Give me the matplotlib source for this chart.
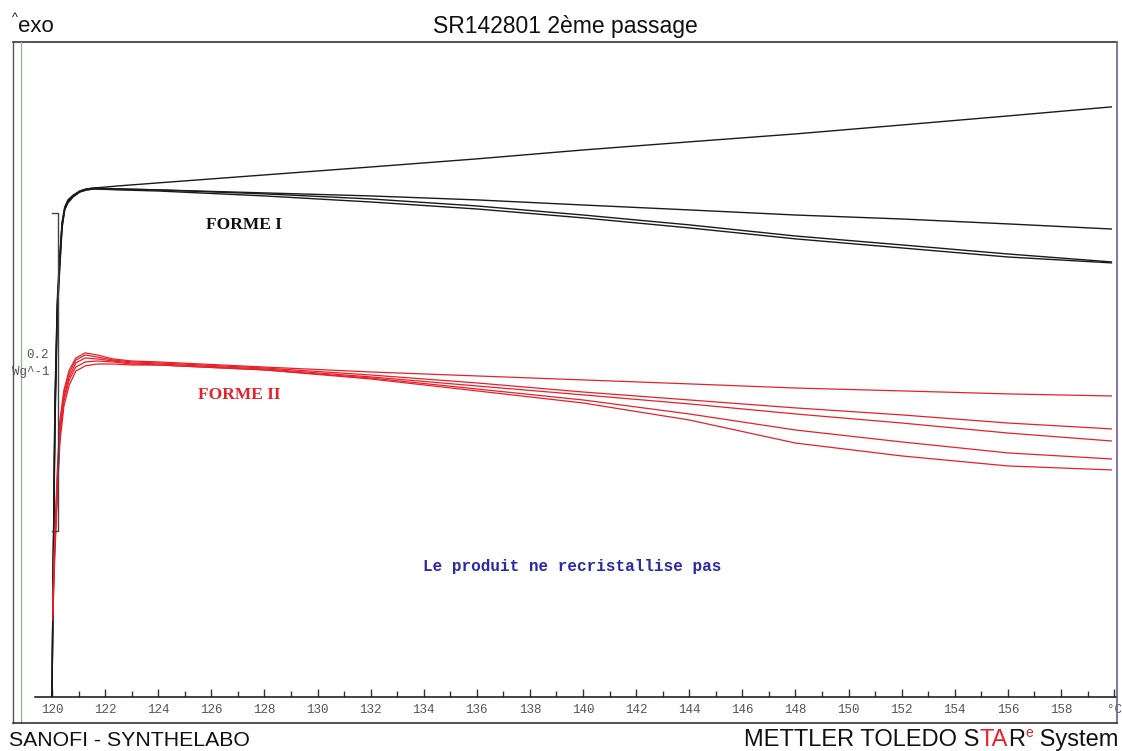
import matplotlib
matplotlib.use("Agg")
import matplotlib.pyplot as plt
from matplotlib.lines import Line2D

# ---------------- data (heat flow in mW/g, temperature in °C) ----------------
temp_black = [120.0, 120.04, 120.11, 120.2, 120.28, 120.38, 120.48, 120.6, 120.8,
              121.05, 121.3, 121.6, 122.5, 124, 128, 132, 136, 140, 144, 148,
              152, 156, 159.9]
forme1_a = [0, 73.6, 186.8, 249.7, 274.8, 298.7, 308.2, 312.6, 315.7,
            318.2, 319.5, 320.1, 321.4, 323.3, 328.3, 333.3, 338.4, 344.0, 349.1, 354.1,
            359.7, 365.4, 371.1]
forme1_b = [0, 70.4, 180.5, 246.5, 271.7, 297.5, 307.5, 311.9, 315.1,
            318.2, 319.5, 320.1, 319.5, 318.9, 317.0, 315.1, 312.6, 309.4, 306.3, 303.1,
            300.6, 297.5, 294.3]
forme1_c = [0, 67.3, 174.2, 243.4, 268.6, 296.2, 306.9, 311.3, 315.1,
            317.6, 318.9, 319.5, 319.5, 318.9, 316.4, 313.2, 308.8, 303.1, 296.9, 289.9,
            284.3, 278.6, 273.6]
forme1_d = [0, 64.2, 167.9, 240.3, 265.4, 294.9, 306.3, 310.7, 314.5,
            317.6, 318.9, 319.5, 318.9, 318.2, 315.1, 311.3, 306.9, 301.3, 295.0, 288.1,
            282.4, 276.7, 273.0]

temp_red = [120.03, 120.1, 120.2, 120.3, 120.45, 120.65, 120.9, 121.25, 121.7,
            122.3, 123, 124, 128, 132, 136, 140, 144, 148, 152, 156, 159.9]
forme2_a = [61.0, 98.7, 142.8, 174.2, 193.1, 205.7, 213.2, 216.4, 215.1,
            212.6, 211.3, 210.7, 207.5, 204.4, 201.9, 199.4, 196.9, 194.3, 192.5, 190.6, 189.3]
forme2_b = [57.9, 95.6, 137.7, 171.1, 191.2, 203.8, 211.9, 215.1, 213.8,
            211.9, 210.7, 210.1, 206.9, 202.5, 197.5, 191.8, 186.8, 181.8, 177.4, 172.3, 168.6]
forme2_c = [54.7, 92.5, 133.3, 167.9, 188.7, 201.3, 210.1, 213.2, 212.6,
            211.3, 210.1, 209.4, 206.3, 201.3, 195.6, 190.0, 184.3, 178.0, 172.3, 166.0, 161.0]
forme2_d = [51.6, 89.3, 130.2, 164.2, 186.2, 199.4, 207.5, 210.7, 211.3,
            210.7, 209.4, 208.8, 205.7, 200.6, 193.7, 186.8, 178.0, 167.9, 160.4, 153.5, 149.7]
forme2_e = [48.4, 86.2, 127.0, 160.4, 183.0, 196.2, 205.0, 208.2, 209.4,
            209.4, 208.8, 208.8, 205.7, 200.0, 192.5, 184.9, 174.2, 159.7, 151.6, 145.3, 142.8]

major_ticks = list(range(120, 161, 2))
tick_labels = [str(t) for t in range(120, 159, 2)] + ["°C"]
minor_ticks = list(range(121, 160, 2))

scale_bar = [104.4, 304.4]   # 0.2 W/g scale bar

W, H = 1122, 751
fig = plt.figure(figsize=(W / 100, H / 100), dpi=100)
fig.patch.set_facecolor("white")

def fx(px):
    return px / W

def fy(py):
    return 1 - py / H

ax = fig.add_axes([fx(35), fy(697), fx(1117) - fx(35), fy(42) - fy(697)])
ax.set_xlim(119.36, 160.11)
ax.set_ylim(0, 411.9)
for s in ["left", "top", "right"]:
    ax.spines[s].set_visible(False)
ax.spines["bottom"].set_color("#222222")
ax.spines["bottom"].set_linewidth(1.2)
ax.set_yticks([])
ax.set_xticks(major_ticks)
ax.set_xticklabels(tick_labels, family="Liberation Mono", fontsize=9, color="#555555")
ax.set_xticks(minor_ticks, minor=True)
ax.tick_params(axis="x", which="major", direction="in", length=6, width=1, color="#333333", pad=5)
ax.tick_params(axis="x", which="minor", direction="in", length=4, width=1, color="#333333")

for ys in [forme1_a, forme1_b, forme1_c, forme1_d]:
    ax.plot(temp_black, ys, color="#1a1a1a", lw=1.0, solid_joinstyle="round")
for ys in [forme2_a, forme2_b, forme2_c, forme2_d, forme2_e]:
    ax.plot(temp_red, ys, color="#e8202a", lw=0.9, solid_joinstyle="round")

# scale bar bracket
ax.plot([120.0, 120.22, 120.22, 120.0],
        [scale_bar[1], scale_bar[1], scale_bar[0], scale_bar[0]],
        color="#444444", lw=1.0)

ax.text(125.8, 297, "FORME I", family="Liberation Serif", weight="bold",
        fontsize=12.5, color="#111111", ha="left", va="center")
ax.text(125.5, 190, "FORME II", family="Liberation Serif", weight="bold",
        fontsize=12.5, color="#e8202a", ha="left", va="center")
ax.text(139.6, 82, "Le produit ne recristallise pas", family="Liberation Mono",
        weight="bold", fontsize=11.5, color="#2a2aa8", ha="center", va="center")

# outer frame
frame_lines = [
    ([13, 1117], [42, 42], "#333333", 1.2),
    ([13, 13], [42, 723], "#555555", 1.0),
    ([21, 21], [42, 723], "#9ab59a", 1.0),
    ([1117, 1117], [42, 723], "#6a5f9a", 1.2),
    ([13, 1117], [723, 723], "#333333", 1.2),
]
for xs, ys, c, lw in frame_lines:
    fig.add_artist(Line2D([fx(x) for x in xs], [fy(y) for y in ys],
                          transform=fig.transFigure, color=c, lw=lw))

fig.text(fx(49), fy(355), "0.2", family="Liberation Mono", fontsize=9,
         color="#555555", ha="right", va="center")
fig.text(fx(49), fy(372), "Wg^-1", family="Liberation Mono", fontsize=9,
         color="#555555", ha="right", va="center")

fig.text(fx(565), fy(27), "SR142801 2ème passage", family="Liberation Sans",
         fontsize=16.5, color="#111111", ha="center", va="center")
fig.text(fx(18), fy(26), "exo", family="Liberation Sans", fontsize=16,
         color="#111111", ha="left", va="center")
fig.text(fx(12), fy(18), "^", family="Liberation Sans", fontsize=9,
         color="#111111", ha="left", va="center")

fig.text(fx(9), fy(740), "SANOFI - SYNTHELABO", family="Liberation Sans",
         fontsize=15.3, color="#111111", ha="left", va="center")

# METTLER TOLEDO STARe System, right aligned, built piecewise
parts = [("METTLER TOLEDO S", "#111111", 17, 0),
         ("TA", "#e8202a", 17, 0),
         ("R", "#111111", 17, 0),
         ("e", "#e8202a", 10, 7),
         (" System", "#111111", 17, 0)]
fig.canvas.draw()
renderer = fig.canvas.get_renderer()
widths = []
for txt, c, fs, dy in parts:
    t = fig.text(0, 0, txt, family="Liberation Sans", fontsize=fs)
    bb = t.get_window_extent(renderer=renderer)
    widths.append(bb.width)
    t.remove()
total = sum(widths)
x0 = 1118 - total
for (txt, c, fs, dy), w in zip(parts, widths):
    fig.text(fx(x0), fy(740 - dy), txt, family="Liberation Sans", fontsize=fs,
             color=c, ha="left", va="center")
    x0 += w

fig.savefig("out.png", dpi=100, facecolor="white")
